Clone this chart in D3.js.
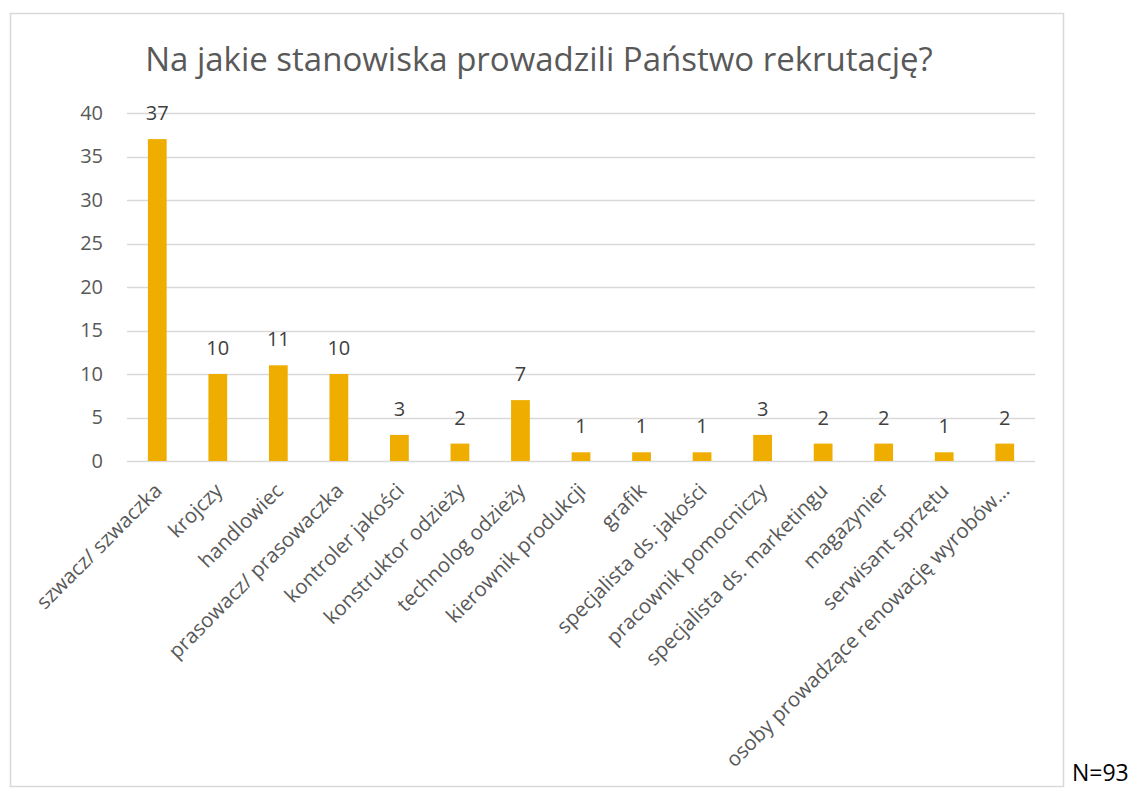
<!DOCTYPE html>
<html>
<head>
<meta charset="utf-8">
<script src="https://cdn.jsdelivr.net/npm/d3@7"></script>
<style>
  body { margin: 0; background: #fff; }
  svg { font-family: "Open Sans", "Noto Sans", sans-serif; }
</style>
</head>
<body>
<script>
// Data
const categories = [
    "szwacz/ szwaczka", "krojczy", "handlowiec", "prasowacz/ prasowaczka",
    "kontroler jakości", "konstruktor odzieży", "technolog odzieży",
    "kierownik produkcji", "grafik", "specjalista ds. jakości",
    "pracownik pomocniczy", "specjalista ds. marketingu", "magazynier",
    "serwisant sprzętu", "osoby prowadzące renowację wyrobów…"
];
const values = [37, 10, 11, 10, 3, 2, 7, 1, 1, 1, 3, 2, 2, 1, 2];
const yTicks = [0, 5, 10, 15, 20, 25, 30, 35, 40];
const title = "Na jakie stanowiska prowadzili Państwo rekrutację?";
const note = "N=93";

const width = 1138, height = 789;
const svg = d3.select('body')
    .append('svg')
    .attr('width', width)
    .attr('height', height);

// Chart frame
svg.append('rect')
    .attr('x', 10.5).attr('y', 13.5)
    .attr('width', 1053).attr('height', 773)
    .attr('fill', 'none')
    .attr('stroke', '#d9d9d9')
    .attr('stroke-width', 1.5);

// Plot area
const plotLeft = 127, plotRight = 1035, plotTop = 113, plotBottom = 461;

const x = d3.scaleBand()
    .domain(categories)
    .range([plotLeft, plotRight])
    .paddingInner(0.69)
    .paddingOuter(0.345);

const y = d3.scaleLinear()
    .domain([0, 40])
    .range([plotBottom, plotTop]);

// Title
svg.append('text')
    .attr('x', 539).attr('y', 71)
    .attr('text-anchor', 'middle')
    .attr('font-size', 33)
    .attr('fill', '#595959')
    .text(title);

// Gridlines
svg.append('g')
    .selectAll('line')
    .data(yTicks)
    .join('line')
    .attr('x1', plotLeft).attr('x2', plotRight)
    .attr('y1', d => Math.round(y(d)) + 0.5)
    .attr('y2', d => Math.round(y(d)) + 0.5)
    .attr('stroke', '#d9d9d9')
    .attr('stroke-width', 1.3);

// Y axis labels
const yAxis = svg.append('g')
    .attr('transform', `translate(${plotLeft - 24},0)`)
    .call(d3.axisLeft(y).tickValues(yTicks).tickSize(0).tickPadding(0));
yAxis.select('.domain').remove();
yAxis.selectAll('text')
    .attr('font-size', 20)
    .attr('font-family', '"Open Sans", sans-serif')
    .attr('fill', '#595959');

// Bars
svg.append('g')
    .selectAll('rect')
    .data(values)
    .join('rect')
    .attr('x', (d, i) => x(categories[i]))
    .attr('width', x.bandwidth())
    .attr('y', d => y(d))
    .attr('height', d => y(0) - y(d))
    .attr('fill', '#efad00');

// Data labels
svg.append('g')
    .selectAll('text')
    .data(values)
    .join('text')
    .attr('x', (d, i) => x(categories[i]) + x.bandwidth() / 2)
    .attr('y', d => y(d) - 19)
    .attr('text-anchor', 'middle')
    .attr('font-size', 20)
    .attr('fill', '#404040')
    .text(d => d);

// Category labels, rotated
svg.append('g')
    .selectAll('text')
    .data(categories)
    .join('text')
    .attr('text-anchor', 'end')
    .attr('font-size', 20.5)
    .attr('fill', '#595959')
    .attr('transform', d => {
        const cx = x(d) + x.bandwidth() / 2 + 6;
        return `translate(${cx},${plotBottom + 31}) rotate(-45)`;
    })
    .text(d => d);

// Sample size note
svg.append('text')
    .attr('x', 1072).attr('y', 781)
    .attr('font-size', 23)
    .attr('fill', '#000')
    .text(note);
</script>
</body>
</html>
